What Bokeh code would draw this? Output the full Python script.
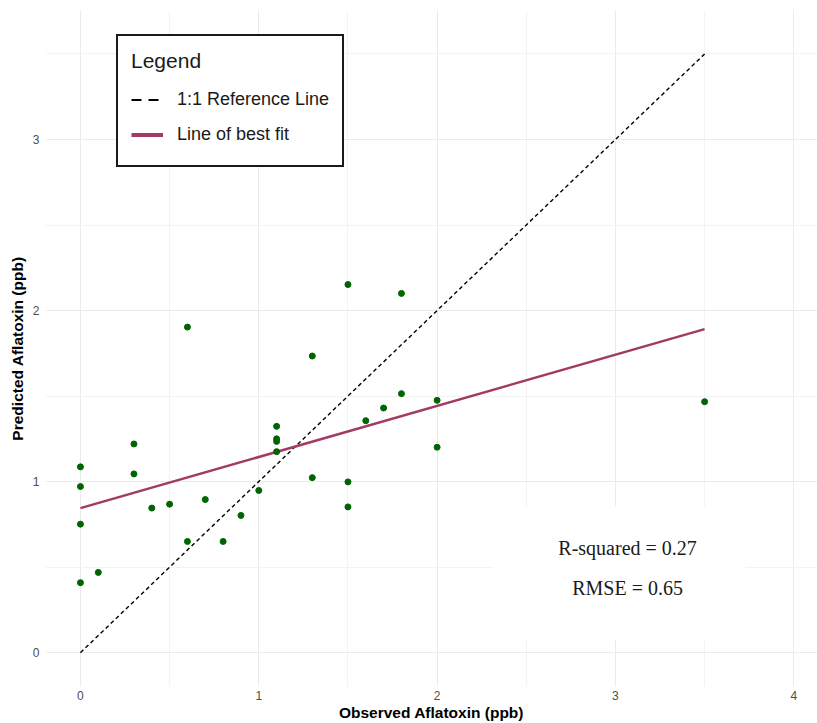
from bokeh.plotting import figure
from bokeh.models import (Range1d, SingleIntervalTicker, Legend, LegendItem,
                          ColumnDataSource, Label, BoxAnnotation)
from bokeh.embed import file_html
from bokeh.resources import INLINE

# ---- data ----
observed = [0, 0, 0, 0, 0.1, 0.3, 0.3, 0.4, 0.5, 0.6, 0.6, 0.7, 0.8, 0.9, 1.0,
            1.1, 1.1, 1.1, 1.1, 1.3, 1.3, 1.5, 1.5, 1.5, 1.6, 1.7, 1.8, 1.8,
            2.0, 2.0, 3.5]
predicted = [1.086, 0.971, 0.751, 0.409, 0.469, 1.220, 1.045, 0.845, 0.868,
             0.650, 1.903, 0.895, 0.650, 0.802, 0.948,
             1.323, 1.250, 1.235, 1.175, 1.023, 1.734, 0.998, 0.852, 2.152,
             1.356, 1.430, 1.514, 2.100,
             1.475, 1.201, 1.467]
ref_x = [0, 3.5]
ref_y = [0, 3.5]
fit_x = [0, 3.5]
fit_y = [0.845, 1.891]
stats_lines = ["R-squared = 0.27", "RMSE = 0.65"]
legend_labels = ["1:1 Reference Line", "Line of best fit"]

FIT_COLOR = "#A33A66"
PT_COLOR = "#006400"
SANS = "Liberation Sans"
NAN = float("nan")

p = figure(width=817, height=723, output_backend="svg", toolbar_location=None,
           x_range=Range1d(-0.196, 4.133), y_range=Range1d(-0.198, 3.754),
           min_border_left=45, min_border_right=0, min_border_top=10,
           min_border_bottom=36)
p.outline_line_color = None
p.background_fill_color = "white"
p.border_fill_color = "white"

for ax, lab in ((p.xaxis[0], "Observed Aflatoxin (ppb)"),
                (p.yaxis[0], "Predicted Aflatoxin (ppb)")):
    ax.ticker = SingleIntervalTicker(interval=1, num_minor_ticks=2)
    ax.axis_label = lab
    ax.axis_label_text_font = SANS
    ax.axis_label_text_font_style = "bold"
    ax.axis_label_text_font_size = "15.5px"
    ax.axis_label_text_color = "black"
    ax.major_label_text_font = SANS
    ax.major_label_text_font_size = "12px"
    ax.major_label_text_color = "#4D4D4D"
    ax.axis_line_color = None
    ax.major_tick_line_color = None
    ax.minor_tick_line_color = None
    ax.major_tick_out = 0
    ax.major_tick_in = 0
    ax.minor_tick_out = 0
    ax.minor_tick_in = 0

p.xaxis.major_label_standoff = 4
p.xaxis.axis_label_standoff = 1
p.yaxis.major_label_standoff = 6
p.yaxis.axis_label_standoff = 4

for g in (p.xgrid[0], p.ygrid[0]):
    g.grid_line_color = "#EBEBEB"
    g.grid_line_width = 1
    g.minor_grid_line_color = "#F3F3F3"
    g.minor_grid_line_width = 1

# stats box background
p.add_layout(BoxAnnotation(left=2.316, right=3.73, bottom=0.076, top=0.852,
                           fill_color="white", fill_alpha=1.0,
                           line_color=None, level="underlay"))

p.line(ref_x, ref_y, line_color="black", line_width=1.4, line_dash="4 3")
p.line(fit_x, fit_y, line_color=FIT_COLOR, line_width=2.5)
p.scatter(observed, predicted, size=6, fill_color=PT_COLOR,
          line_color=PT_COLOR)

# legend proxies (legend keys are drawn larger than the plotted lines)
proxy = ColumnDataSource(data=dict(x=[NAN, NAN], y=[NAN, NAN]))
leg_ref = p.line("x", "y", source=proxy, line_color="black", line_width=2,
                 line_dash="10 7")
leg_fit = p.line("x", "y", source=proxy, line_color=FIT_COLOR, line_width=4)

legend = Legend(items=[LegendItem(label=legend_labels[0], renderers=[leg_ref]),
                       LegendItem(label=legend_labels[1], renderers=[leg_fit])],
                location=(71, 519), title="Legend")
legend.title_text_font = SANS
legend.title_text_font_size = "21px"
legend.title_text_font_style = "normal"
legend.title_text_color = "#1A1A1A"
legend.title_standoff = 9
legend.label_text_font = SANS
legend.label_text_font_size = "18px"
legend.label_text_color = "#1A1A1A"
legend.label_standoff = 14
legend.label_height = 35
legend.glyph_height = 35
legend.glyph_width = 32
legend.spacing = 0
legend.padding = 13
legend.margin = 0
legend.border_line_color = "#1A1A1A"
legend.border_line_alpha = 1.0
legend.border_line_width = 2
legend.background_fill_color = "white"
legend.background_fill_alpha = 1.0
p.add_layout(legend, "center")

for txt, yy in zip(stats_lines, (0.613, 0.379)):
    p.add_layout(Label(x=3.068, y=yy, text=txt, text_align="center",
                       text_baseline="middle", text_font="Liberation Serif",
                       text_font_size="20px", text_color="#1A1A1A"))

open("out.html", "w").write(file_html(p, INLINE))
